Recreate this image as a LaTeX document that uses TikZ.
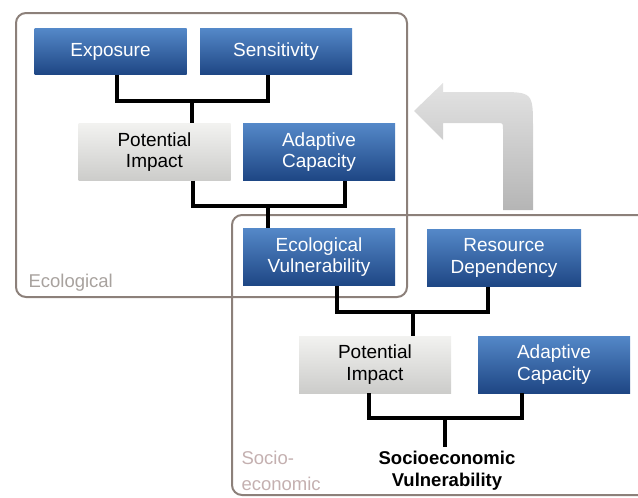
\documentclass[tikz,border=0pt]{standalone}
\usepackage{fontspec}
\setmainfont{Liberation Sans}

\definecolor{boxtop}{RGB}{84,136,200}
\definecolor{boxbot}{RGB}{30,70,132}
\definecolor{greytop}{RGB}{242,242,240}
\definecolor{greybot}{RGB}{204,204,202}
\definecolor{framecol}{RGB}{140,128,122}
\definecolor{ecolabel}{RGB}{168,162,158}
\definecolor{soclabel}{RGB}{196,176,176}

\tikzset{
  bluebox/.style={rectangle, top color=boxtop, bottom color=boxbot, text=white,
    minimum width=152pt, minimum height=57pt, inner sep=0pt, align=center,
    font=\fontsize{19}{21.5}\selectfont},
  greybox/.style={bluebox, top color=greytop, bottom color=greybot, text=black},
  link/.style={line width=3.4pt, black},
  frame/.style={line width=2pt, draw=framecol, rounded corners=10pt},
}

\begin{document}
\begin{tikzpicture}[x=1pt, y=-1pt]
\useasboundingbox (0,0) rectangle (638,498);

% frames
\draw[frame] (16,13) rectangle (407,297);
\begin{scope}
  \clip (0,0) rectangle (638,498);
  \draw[frame] (232,215) rectangle (690,495);
\end{scope}

% feedback arrow
\shade[top color=gray!22, bottom color=gray!58]
  (503,210) -- (503,129) .. controls (503,123) .. (497,123) -- (443,123)
  -- (443,140) -- (414,111) -- (443,83) -- (443,92) -- (497,92)
  .. controls (533,92) .. (533,128) -- (533,210) -- cycle;

% ecological part
\node[bluebox, minimum height=46pt] (expo) at (110.5,51.5) {Exposure};
\node[bluebox, minimum height=46pt] (sens) at (276,51.5) {Sensitivity};
\node[greybox] (pimpE) at (154.5,152) {Potential\\Impact};
\node[bluebox] (adapE) at (319,152) {Adaptive\\Capacity};
\node[bluebox] (ecovul) at (319,257) {Ecological\\Vulnerability};

% socioeconomic part
\node[bluebox, minimum width=154pt] (resdep) at (504,258) {Resource\\Dependency};
\node[greybox] (pimpS) at (375,364.5) {Potential\\Impact};
\node[bluebox] (adapS) at (554,364.5) {Adaptive\\Capacity};
\node[align=center, inner sep=2pt, font=\bfseries\fontsize{18.5}{22}\selectfont]
  (sevul) at (447,471) {Socioeconomic\\Vulnerability};

% frame labels
\node[anchor=west, text=ecolabel, font=\fontsize{18.5}{21}\selectfont]
  (ecolbl) at (25,283) {Ecological};
\node[anchor=west, align=left, text=soclabel, font=\fontsize{18.5}{26}\selectfont]
  (soclbl) at (238,471) {Socio-\\economic};

% connectors
\coordinate (j1) at (192,101);
\coordinate (j2) at (268,206);
\coordinate (j3) at (413,312);
\coordinate (j4) at (445,418);

\draw[link] ([xshift=6.5pt]expo.south) |- (j1) -| ([xshift=-8pt]sens.south);
\draw[link] (j1) -- (j1 |- pimpE.north);

\draw[link] ([xshift=38.5pt]pimpE.south) |- (j2) -| ([xshift=26pt]adapE.south);
\draw[link] (j2) -- (j2 |- ecovul.north);

\draw[link] ([xshift=18pt]ecovul.south) |- (j3) -| ([xshift=-16pt]resdep.south);
\draw[link] (j3) -- (j3 |- pimpS.north);

\draw[link] ([xshift=-6pt]pimpS.south) |- (j4) -| ([xshift=-32pt]adapS.south);
\draw[link] (j4) -- ([yshift=2pt]j4 |- sevul.north);

\end{tikzpicture}
\end{document}
